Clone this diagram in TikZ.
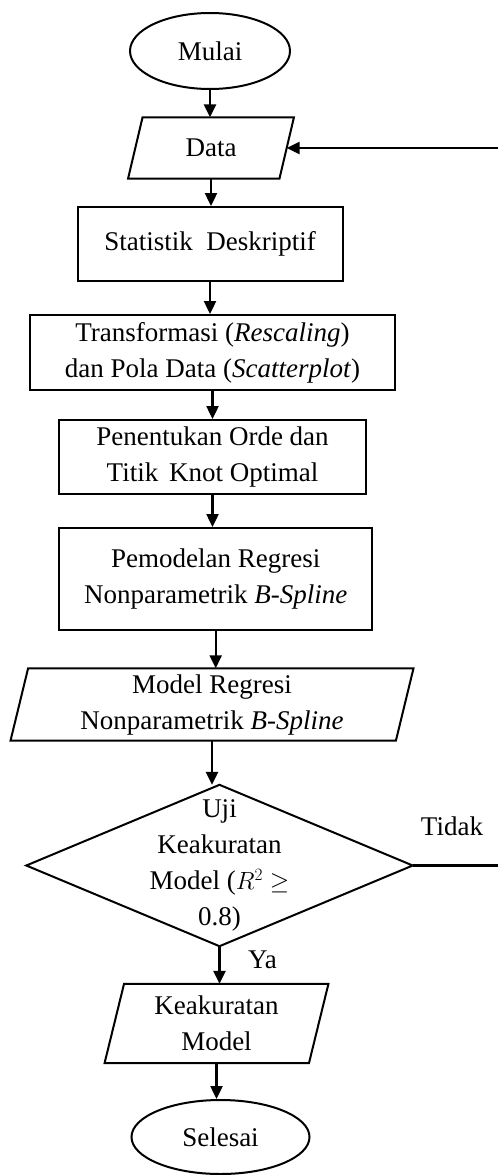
\documentclass[tikz,border=0pt]{standalone}
\usepackage{fontspec}
\setmainfont{Liberation Serif}
\usetikzlibrary{shapes.geometric,arrows.meta}
\newcommand{\iobox}[2]{\draw[border] ([xshift=#2]#1.north west) -- ([xshift=#2]#1.north east) -- ([xshift=-#2]#1.south east) -- ([xshift=-#2]#1.south west) -- cycle;}
\begin{document}
\begin{tikzpicture}[x=1pt,y=-1pt,
  font=\fontsize{27}{36}\selectfont,
  border/.style={line width=2pt},
  proc/.style={draw,line width=2pt,inner sep=0pt,align=center},
  term/.style={ellipse,draw,line width=2pt,inner sep=0pt,align=center},
  plain/.style={inner sep=0pt,align=center},
  arr/.style={line width=2.4pt,-{Triangle[length=13pt,width=12pt]}},
  link/.style={line width=2.4pt}]
\useasboundingbox (0,0) rectangle (498,1175);
\coordinate (edge) at (498,0);
\node[term, minimum width=160pt, minimum height=76pt] (start) at (210,51) {Mulai};
\node[plain, minimum width=151pt, minimum height=61pt] (data) at (211,148) {Data};
\iobox{data}{7.25pt}
\node[proc, minimum width=265pt, minimum height=74pt] (stat) at (210,244) {Statistik\hspace{0.5em}Deskriptif};
\node[proc, minimum width=365pt, minimum height=75pt] (trans) at (212.5,352.5) {Transformasi (\textit{Rescaling})\\dan Pola Data (\textit{Scatterplot})};
\node[proc, minimum width=307pt, minimum height=74pt] (knot) at (212.5,457) {Penentukan Orde dan\\Titik\hspace{0.4em}Knot Optimal};
\node[proc, minimum width=313pt, minimum height=102pt] (model) at (215.7,579) {Pemodelan Regresi\\Nonparametrik \textit{B-Spline}};
\node[plain, minimum width=385pt, minimum height=72pt] (out) at (212,704.5) {Model Regresi\\Nonparametrik \textit{B-Spline}};
\iobox{out}{8.8pt}
\node[plain, minimum width=386pt, minimum height=161pt] (dec) at (219.5,865.5) {Uji\\Keakuratan\\Model ($R^{2}\geq$\\0.8)};
\draw[border] (dec.north) -- (dec.east) -- (dec.south) -- (dec.west) -- cycle;
\node[plain, minimum width=204pt, minimum height=79pt] (acc) at (216.5,1023.5) {Keakuratan\\Model};
\iobox{acc}{9.75pt}
\node[term, minimum width=178pt, minimum height=74pt] (end) at (220.5,1137) {Selesai};
\node[plain] (tidak) at (452,826) {Tidak};
\node[plain] (ya) at (262.5,960) {Ya};
\draw[arr] (start.south) -- (start.south |- data.north);
\draw[arr] (data.south) -- (data.south |- stat.north);
\draw[arr] (stat.south) -- (stat.south |- trans.north);
\draw[arr] (trans.south) -- (trans.south |- knot.north);
\draw[arr] (knot.south) -- (knot.south |- model.north);
\draw[arr] (model.south) -- (model.south |- out.north);
\draw[arr] (out.south) -- (out.south |- dec.north);
\draw[arr] (dec.south) -- (dec.south |- acc.north);
\draw[arr] (acc.south) -- (acc.south |- end.north);
\draw[link] (dec.east) -- (dec.east -| edge);
\draw[arr] (data.east -| edge) -- (data.east);
\end{tikzpicture}
\end{document}
